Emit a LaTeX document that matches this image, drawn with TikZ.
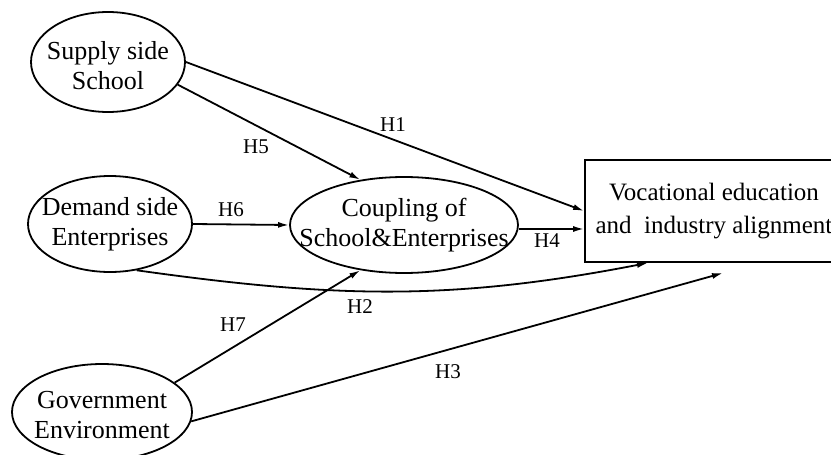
\documentclass[tikz,border=0pt]{standalone}
\usepackage{fontspec}
\setmainfont{Liberation Serif}
\usetikzlibrary{shapes.geometric,arrows.meta}
\newcommand\twoline[2][-3.25pt]{\makebox[0pt]{\raisebox{#1}[0pt][0pt]{\begin{tabular}{@{}c@{}}#2\end{tabular}}}}

\begin{document}
\begin{tikzpicture}[
  x=0.5pt, y=-0.5pt,
  construct/.style={ellipse,draw=black,line width=0.9pt,inner sep=0pt,font=\fontsize{13}{15}\selectfont},
  outcome/.style={rectangle,draw=black,line width=0.9pt,minimum width=129pt,minimum height=51pt,align=center,font=\fontsize{12.5}{16.5}\selectfont},
  hyp/.style={font=\fontsize{10.5}{12}\selectfont,inner sep=1pt},
  link/.style={line width=0.9pt,-{Latex[length=5.5pt,width=3pt]}}
]
  \useasboundingbox (0,0) rectangle (831,455);

  % --- antecedents (left column) ---
  \node[construct,minimum width=77pt,minimum height=50pt] (supply) at (108,62)  {\twoline[-6pt]{Supply side\\School}};
  \node[construct,minimum width=82pt,minimum height=48pt] (demand) at (110,224) {\twoline{Demand side\\Enterprises}};
  \node[construct,minimum width=90pt,minimum height=48pt] (gov)    at (102,412) {\twoline[-5.5pt]{Government\\Environment}};

  % --- mediator and outcome ---
  \node[construct,minimum width=114pt,minimum height=48pt] (coupling) at (404,225) {\twoline{Coupling of\\School\&Enterprises}};
  \node[outcome] (align) at (714,211) {Vocational education\\and~ industry alignment};
  \coordinate (h3end) at (723,273);

  % --- hypothesised paths ---
  \draw[link] (supply.east) -- (align.west);
  \draw[link] (supply.-18) -- (coupling.134);
  \draw[link] (demand.east) -- (coupling.west);
  \draw[link] (coupling.-2) -- (coupling.-2 -| align.west);
  \draw[link] (demand.-60) to[out=-8,in=191] ([xshift=-33pt]align.south);
  \draw[link] (gov.22) -- (coupling.226);
  \draw[link] (gov.-6) -- (h3end);

  \node[hyp] (h1) at (393,125) {H1};
  \node[hyp] (h5) at (256,147) {H5};
  \node[hyp] (h6) at (231,210) {H6};
  \node[hyp] (h4) at (547,241) {H4};
  \node[hyp] (h2) at (360,307) {H2};
  \node[hyp] (h7) at (233,325) {H7};
  \node[hyp] (h3) at (448,372) {H3};
\end{tikzpicture}
\end{document}
